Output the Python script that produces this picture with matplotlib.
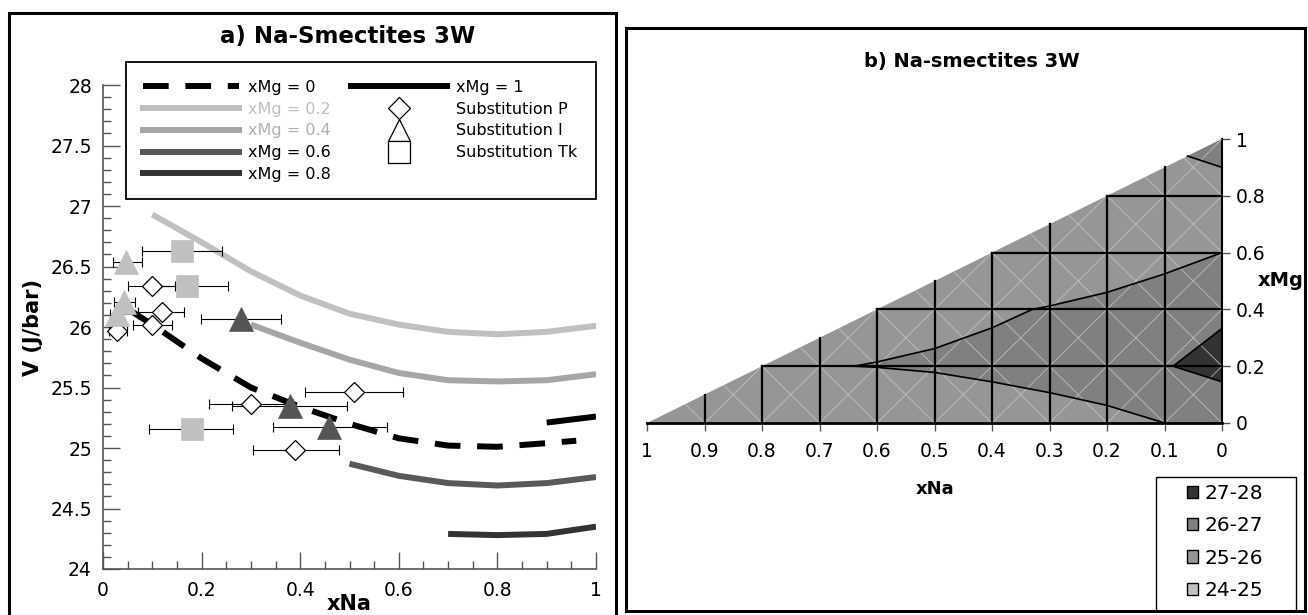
import numpy as np
import matplotlib.pyplot as plt
from matplotlib.lines import Line2D
from matplotlib.patches import Rectangle, Polygon, Patch

plt.rcParams['font.family'] = ['DejaVu Sans']

W, H = 1308, 615

# ---- panel a: model curves V (J/bar) vs xNa, one per xMg ----
xna_mg0 = [0.05, 0.1, 0.2, 0.3, 0.4, 0.5, 0.6, 0.7, 0.8, 0.9, 0.96]
v_mg0 = [26.15, 26.02, 25.74, 25.50, 25.34, 25.20, 25.08, 25.02, 25.01, 25.04, 25.06]
xna_mg02 = [0.1, 0.2, 0.3, 0.4, 0.5, 0.6, 0.7, 0.8, 0.9, 1.0]
v_mg02 = [26.93, 26.70, 26.46, 26.26, 26.11, 26.02, 25.96, 25.94, 25.96, 26.01]
xna_mg04 = [0.3, 0.4, 0.5, 0.6, 0.7, 0.8, 0.9, 1.0]
v_mg04 = [26.02, 25.87, 25.73, 25.62, 25.56, 25.55, 25.56, 25.61]
xna_mg06 = [0.5, 0.6, 0.7, 0.8, 0.9, 1.0]
v_mg06 = [24.87, 24.77, 24.71, 24.69, 24.71, 24.76]
xna_mg08 = [0.7, 0.8, 0.9, 1.0]
v_mg08 = [24.29, 24.28, 24.29, 24.35]
xna_mg1 = [0.9, 1.0]
v_mg1 = [25.21, 25.26]

# experimental points with xNa ranges
p_x = [0.028, 0.099, 0.12, 0.099, 0.30, 0.509, 0.389]
p_v = [25.97, 26.34, 26.12, 26.02, 25.36, 25.46, 24.98]
p_lo = [0.012, 0.051, 0.071, 0.061, 0.215, 0.41, 0.304]
p_hi = [0.049, 0.147, 0.165, 0.14, 0.385, 0.608, 0.479]

i_light_x = [0.047, 0.043, 0.028]
i_light_v = [26.54, 26.21, 26.11]
i_light_lo = [0.02, 0.022, 0.014]
i_light_hi = [0.079, 0.065, 0.071]

i_dark_x = [0.28, 0.379, 0.459]
i_dark_v = [26.07, 25.35, 25.17]
i_dark_lo = [0.199, 0.262, 0.344]
i_dark_hi = [0.361, 0.495, 0.576]

tk_x = [0.16, 0.171, 0.18]
tk_v = [26.63, 26.34, 25.16]
tk_lo = [0.079, 0.088, 0.094]
tk_hi = [0.241, 0.254, 0.264]

# ---- panel b: contour boundaries in (xNa, xMg) ----
up_na = [0.64, 0.6, 0.5, 0.4, 0.33, 0.3, 0.2, 0.1, 0.0]
up_mg = [0.2, 0.215, 0.262, 0.335, 0.40, 0.412, 0.46, 0.525, 0.6]
low_na = [0.64, 0.6, 0.5, 0.4, 0.3, 0.2, 0.1]
low_mg = [0.2, 0.196, 0.178, 0.145, 0.107, 0.062, 0.0]
c27_na = [0.0, 0.085, 0.0]
c27_mg = [0.333, 0.2, 0.145]
top_na = [0.06, 0.0]
top_mg = [0.94, 0.90]
range_labels = ['27-28', '26-27', '25-26', '24-25']
range_colors = ['#333333', '#808080', '#969696', '#c0c0c0']


def fx(px):
    return px / W


def fy(py):
    return 1 - py / H


def frame(x0, y0, x1, y1, lw):
    fig.add_artist(Rectangle((fx(x0), fy(y1)), fx(x1) - fx(x0), fy(y0) - fy(y1),
                             transform=fig.transFigure, fill=False, lw=lw, ec='black'))


fig = plt.figure(figsize=(W / 100, H / 100), dpi=100)

# panel frames
frame(9, 13, 616, 620, 2.2)
frame(626, 28, 1305, 611, 2.2)

# ================= panel a =================
ax = fig.add_axes([fx(103), fy(569), fx(596) - fx(103), fy(85) - fy(569)])
lw = 4.3
ax.plot(xna_mg02, v_mg02, color='#c0c0c0', lw=lw, solid_capstyle='butt')
ax.plot(xna_mg04, v_mg04, color='#a6a6a6', lw=lw, solid_capstyle='butt')
ax.plot(xna_mg06, v_mg06, color='#595959', lw=lw, solid_capstyle='butt')
ax.plot(xna_mg08, v_mg08, color='#333333', lw=lw, solid_capstyle='butt')
ax.plot(xna_mg1, v_mg1, color='black', lw=lw, solid_capstyle='butt')
ax.plot(xna_mg0, v_mg0, color='black', lw=lw, dashes=(4.3, 2.8), dash_capstyle='butt')


def with_err(x, v, lo, hi, marker, fc, ec, ms, mew):
    x = np.array(x)
    err = [x - np.array(lo), np.array(hi) - x]
    ax.errorbar(x, v, xerr=err, fmt='none', ecolor='black', elinewidth=0.8,
                capsize=3.8, capthick=0.8, zorder=4)
    ax.plot(x, v, ls='none', marker=marker, mfc=fc, mec=ec, ms=ms, mew=mew, zorder=5)


with_err(tk_x, tk_v, tk_lo, tk_hi, 's', '#c0c0c0', '#c0c0c0', 16, 0.5)
with_err(p_x, p_v, p_lo, p_hi, 'D', 'white', 'black', 10, 0.9)
with_err(i_light_x, i_light_v, i_light_lo, i_light_hi, '^', '#c0c0c0', '#c0c0c0', 17, 0.5)
with_err(i_dark_x, i_dark_v, i_dark_lo, i_dark_hi, '^', '#555555', '#555555', 17, 0.5)

ax.set_xlim(0, 1)
ax.set_ylim(24, 28)
ax.set_xticks(np.arange(0, 1.01, 0.2))
ax.set_xticklabels(['0', '0.2', '0.4', '0.6', '0.8', '1'])
ax.set_xticks(np.arange(0, 1.001, 0.05), minor=True)
ax.set_yticks(np.arange(24, 28.01, 0.5))
ax.set_yticklabels(['24', '24.5', '25', '25.5', '26', '26.5', '27', '27.5', '28'])
ax.set_yticks(np.arange(24, 28.001, 0.1), minor=True)
ax.tick_params(which='both', direction='in', color='#555555', labelsize=13.5)
ax.tick_params(which='major', length=12, width=1)
ax.tick_params(which='minor', length=6, width=1)
ax.tick_params(axis='y', pad=8)
ax.tick_params(axis='x', pad=9)
for s in ['top', 'right']:
    ax.spines[s].set_visible(False)
for s in ['left', 'bottom']:
    ax.spines[s].set_color('#555555')
    ax.spines[s].set_linewidth(1.2)
ax.set_xlabel('xNa', fontsize=15, fontweight='bold', labelpad=-5)
ax.set_ylabel('V (J/bar)', fontsize=15, fontweight='bold', labelpad=5)
fig.text(fx(348), fy(37), 'a) Na-Smectites 3W', fontsize=16.5, fontweight='bold',
         ha='center', va='center')

handles = [
    Line2D([], [], color='black', lw=lw, dashes=(4.3, 2.8), dash_capstyle='butt'),
    Line2D([], [], color='#c0c0c0', lw=lw),
    Line2D([], [], color='#a6a6a6', lw=lw),
    Line2D([], [], color='#595959', lw=lw),
    Line2D([], [], color='#333333', lw=lw),
    Line2D([], [], color='black', lw=lw),
    Line2D([], [], ls='none', marker='D', mfc='white', mec='black', ms=11, mew=0.9),
    Line2D([], [], ls='none', marker='^', mfc='white', mec='black', ms=16, mew=0.9),
    Line2D([], [], ls='none', marker='s', mfc='white', mec='black', ms=16, mew=0.9),
]
labels = ['xMg = 0', 'xMg = 0.2', 'xMg = 0.4', 'xMg = 0.6', 'xMg = 0.8', 'xMg = 1',
          'Substitution P', 'Substitution I', 'Substitution Tk']
frame(126, 62, 596, 199, 1.3)
leg = ax.legend(handles, labels, ncol=2, loc='upper left',
                bbox_to_anchor=(fx(143), fy(80)), bbox_transform=fig.transFigure,
                fontsize=11.5, handlelength=6.0, handletextpad=0.55, labelspacing=0.42,
                columnspacing=1.3, borderpad=0, borderaxespad=0, frameon=False)
for t, c in zip(leg.get_texts(), ['black', '#c0c0c0', '#b0b0b0', 'black', 'black',
                                  'black', 'black', 'black', 'black']):
    t.set_color(c)

# ================= panel b =================
bx = fig.add_axes([fx(647), fy(423), fx(1222) - fx(647), fy(139) - fy(423)])
bx.set_xlim(1, 0)
bx.set_ylim(0, 1)
tri = Polygon([(1, 0), (0, 0), (0, 1)], closed=True, fc=range_colors[2], ec='none', zorder=1)
bx.add_patch(tri)
band = list(zip(up_na, up_mg)) + [(0, 0)] + list(zip(low_na[::-1], low_mg[::-1]))
bx.add_patch(Polygon(band, closed=True, fc=range_colors[1], ec='none', zorder=2))
bx.add_patch(Polygon(list(zip(top_na, top_mg)) + [(0, 1)], closed=True,
                     fc=range_colors[1], ec='none', zorder=2))
bx.add_patch(Polygon(list(zip(c27_na, c27_mg)), closed=True, fc=range_colors[0],
                     ec='none', zorder=2))

# faint triangulation lines inside cells
for a in np.arange(0, 1.0, 0.1):
    for m in np.arange(0, 1.0, 0.2):
        ln1, = bx.plot([a, a + 0.1], [m, m + 0.2], color='#c8c8c8', lw=0.5, zorder=3)
        ln2, = bx.plot([a + 0.1, a], [m, m + 0.2], color='#c8c8c8', lw=0.5, zorder=3)
        ln1.set_clip_path(tri)
        ln2.set_clip_path(tri)

# grid inside triangle
for a in np.arange(0.1, 0.95, 0.1):
    bx.plot([a, a], [0, 1 - a], color='black', lw=1.6, zorder=4)
for m in np.arange(0.2, 0.95, 0.2):
    bx.plot([0, 1 - m], [m, m], color='black', lw=1.6, zorder=4)

# contour lines
bx.plot(up_na, up_mg, color='black', lw=1.2, zorder=5)
bx.plot(low_na, low_mg, color='black', lw=1.2, zorder=5)
bx.plot(c27_na, c27_mg, color='black', lw=1.2, zorder=5)
bx.plot(top_na, top_mg, color='black', lw=1.2, zorder=5)

for s in ['top', 'left']:
    bx.spines[s].set_visible(False)
bx.spines['bottom'].set_linewidth(2)
bx.spines['right'].set_linewidth(1.5)
bx.spines['bottom'].set_zorder(6)
bx.set_xticks(np.round(np.arange(0, 1.01, 0.1), 1))
bx.set_xticklabels(['0', '0.1', '0.2', '0.3', '0.4', '0.5', '0.6', '0.7', '0.8', '0.9', '1'])
bx.yaxis.tick_right()
bx.set_yticks(np.round(np.arange(0, 1.01, 0.2), 1))
bx.set_yticklabels(['0', '0.2', '0.4', '0.6', '0.8', '1'])
bx.tick_params(direction='out', length=6, width=1, labelsize=13.5, color='#555555')
bx.tick_params(axis='x', pad=8)
bx.tick_params(axis='y', pad=4)
fig.text(fx(935), fy(489), 'xNa', fontsize=13, fontweight='bold', ha='center', va='center')
fig.text(fx(1258), fy(280), 'xMg', fontsize=14, fontweight='bold', ha='left', va='center')
fig.text(fx(972), fy(61), 'b) Na-smectites 3W', fontsize=14, fontweight='bold',
         ha='center', va='center')

patches = [Patch(fc=c, ec='black', lw=1) for c in range_colors]
frame(1156, 477, 1296, 611, 1.0)
leg2 = fig.legend(patches, range_labels, loc='upper left', bbox_to_anchor=(fx(1187), fy(484)),
                  fontsize=14.5, handlelength=0.55, handleheight=0.55, handletextpad=0.3,
                  labelspacing=0.66, borderpad=0, borderaxespad=0, frameon=False)

fig.savefig('out.png', dpi=100)
